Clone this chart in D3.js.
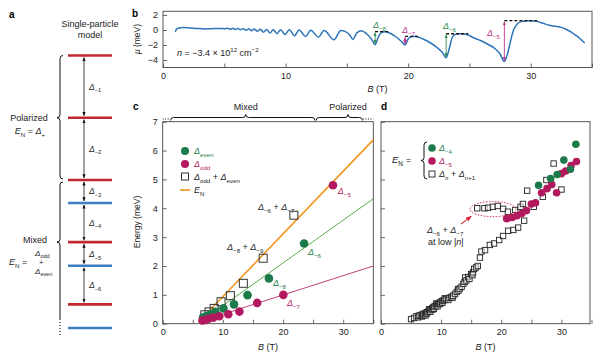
<!DOCTYPE html>
<html><head><meta charset="utf-8">
<script src="https://cdn.jsdelivr.net/npm/d3@7"></script>
<style>body{margin:0;background:#fff}svg{display:block}text{font-family:"Liberation Sans",Arial,sans-serif}</style>
</head><body><svg id="fig" width="603" height="357"></svg>
<script>
// ---------------- DATA ----------------
// panel a: single-particle levels (relative energy units) and colours
const levelsA = [0, 1, 2, 2.37, 3, 3.38, 4, 4.38];
const levelKindA = ["r", "r", "r", "b", "r", "b", "r", "b"];
const gapLabelsA = ["−1", "−2", "−3", "−4", "−5", "−6"];

// panel b: chemical potential mu (meV) vs B (T)
const muB = [1.0,1.1,1.3,1.7,2.2,2.8,3.4,4.0,4.6,5.0,5.3,5.5,5.7,5.9,6.1,6.3,6.55,6.75,7.0,7.2,7.45,7.7,7.95,8.2,8.45,8.72,9.0,9.3,9.6,9.96,10.3,10.73,11.1,11.63,12.05,12.68,13.15,13.95,14.5,14.8,15.2,15.5,15.8,16.2,16.6,17.0,17.3,17.55,17.8,18.1,18.5,19.0,19.5,19.75,20.0,20.3,20.6,21.2,21.8,22.4,22.8,23.1,23.35,23.6,23.9,24.3,24.8,25.3,25.9,26.5,27.1,27.5,27.85,28.1,28.35,28.6,28.9,29.3,29.9,30.5,31.0,31.5,32.0,32.5,33.0,33.5,34.0,34.4];
const muV = [-0.25,0.1,0.28,0.33,0.28,0.2,0.15,0.18,0.2,0.17,0.22,0.1,0.22,0.08,0.2,0.05,0.18,-0.02,0.15,-0.1,0.12,-0.15,0.1,-0.3,0.08,-0.4,0.05,-0.5,0.05,-0.6,0.05,-0.75,0.0,-0.85,-0.02,-0.95,-0.05,-1.3,-0.05,-0.15,-0.6,-1.25,-0.4,-0.1,-0.5,-1.2,-1.95,-1.0,-0.35,-0.22,-0.4,-0.9,-1.6,-2.0,-1.2,-0.87,-0.85,-1.2,-1.7,-2.4,-3.0,-3.7,-2.5,-1.0,-0.55,-0.5,-0.6,-1.0,-1.4,-1.9,-2.5,-3.2,-4.2,-3.2,-1.5,0.0,0.8,1.15,1.24,1.15,0.9,0.62,0.5,0.35,0.0,-0.5,-1.1,-1.75];
const gapArrowsB = [ // B, bottom mu, top mu, dashed end B, label, parity
  {B:17.3, lo:-1.95, hi:-0.22, end:18.4, lab:"−8", par:"even"},
  {B:19.75, lo:-2.0, hi:-0.85, end:20.9, lab:"−7", par:"odd"},
  {B:23.1, lo:-3.7, hi:-0.5, end:24.9, lab:"−6", par:"even"},
  {B:27.85, lo:-4.2, hi:1.24, end:30.6, lab:"−5", par:"odd"}
];

// panel c
const cEven = [[6.7,0.21],[7.2,0.26],[7.9,0.33],[8.75,0.41],[10.1,0.53],[11.85,0.67],[14.1,0.99],[17.65,1.57],[23.5,2.78]];
const cOdd  = [[6.6,0.11],[7.1,0.13],[7.6,0.17],[8.4,0.21],[9.4,0.26],[10.9,0.33],[12.75,0.42],[15.7,0.72],[20.05,1.0],[28.3,4.8]];
const cSum  = [[7.0,0.31],[7.7,0.41],[8.55,0.53],[9.7,0.76],[11.25,0.97],[13.4,1.4],[16.7,2.27],[21.8,3.76]];
const cLineEN   = [[6.5,0.18],[35,6.37]];
const cLineEven = [[6.2,0.06],[35,4.33]];
const cLineOdd  = [[6.0,0.06],[35,2.0]];

// panel d
const dEven = [[26.2,4.8],[28.2,5.03],[29.3,5.17],[30.4,5.67],[31.5,5.35],[32.4,6.22]];
const dOdd  = [[20.9,3.64],[21.8,3.68],[22.6,3.74],[23.4,3.82],[24.2,3.92],[25.0,4.15],[25.7,4.19],[26.7,4.54],[27.6,4.68],[28.4,4.82],[29.2,4.54],[30.0,5.2],[30.7,5.29],[31.6,5.48],[32.5,5.62]];
const dSum  = [[5.0,0.16],[5.5,0.2],[5.9,0.26],[6.2,0.22],[6.3,0.28],[6.6,0.3],[6.8,0.25],[6.9,0.32],[7.0,0.28],[7.1,0.35],[7.3,0.33],[7.4,0.29],[7.5,0.38],[7.6,0.35],[7.7,0.4],[7.9,0.43],[8.0,0.5],[8.1,0.46],[8.2,0.41],[8.3,0.5],[8.5,0.53],[8.6,0.49],[8.7,0.57],[8.8,0.52],[8.9,0.6],[9.1,0.62],[9.2,0.7],[9.3,0.66],[9.4,0.6],[9.5,0.69],[9.7,0.72],[9.8,0.68],[9.9,0.75],[10.1,0.78],[10.2,0.72],[10.3,0.8],[10.5,0.82],[10.6,0.88],[10.8,0.85],[11.1,0.88],[11.2,0.82],[11.4,0.9],[11.7,0.93],[11.9,0.9],[12.0,0.97],[12.3,1.03],[12.6,1.1],[12.8,1.2],[12.9,1.15],[13.1,1.22],[13.4,1.28],[13.7,1.38],[13.9,1.45],[14.0,1.6],[14.2,1.5],[14.5,1.62],[14.7,1.55],[15.0,1.72],[15.2,1.68],[15.3,1.78],[15.5,1.9],[15.8,1.95],[16.1,2.0],[16.45,2.29],[16.7,2.5],[17.3,2.55],[18.1,2.73],[18.8,2.78],[19.65,2.9],[20.3,3.04],[21.15,3.22],[22.0,3.25],[22.8,3.33],[23.8,3.57],
  [16.0,4.0],[17.2,4.0],[17.8,4.02],[18.6,4.05],[19.4,4.08],[20.3,3.98],[21.1,3.88],[22.3,3.94],[23.2,4.05],[23.6,4.15],[24.3,4.61],[25.4,4.05],[26.9,4.4],[27.5,4.98],[28.7,5.55],[30.0,4.65]];

const ticksB = [0,5,10,15,20,25,30,35];
const tickLabelsB = [0,10,20,30];

// ---------------- STYLE ----------------
const RED = "#c4282f", BLUE = "#3b7fc2";
const GREEN = "#1d7a4b", MAG = "#b3195e";
const GREENL = "#5aac4a", MAGL = "#c2407e", ORANGE = "#f2941c";
const CURVE = "#2c74b9";
const FONT = 9;

const svg = d3.select("#fig");
svg.append("rect").attr("width",603).attr("height",357).attr("fill","#fff");
const defs = svg.append("defs");
function marker(id, color, size) {
  defs.append("marker").attr("id", id).attr("viewBox","0 0 10 10").attr("refX",9).attr("refY",5)
    .attr("markerWidth", size).attr("markerHeight", size).attr("orient","auto-start-reverse")
    .attr("markerUnits","userSpaceOnUse")
    .append("path").attr("d","M0,1 L10,5 L0,9 Z").attr("fill", color);
}
marker("ak", "#111", 4); marker("ag", "#2d8a50", 4); marker("am", "#c0338a", 4); marker("ar", "#d62035", 6);

function rich(sel, x, y, parts, o = {}) {
  const size = o.size || FONT;
  const t = sel.append("text").attr("x", x).attr("y", y).attr("font-size", size)
    .attr("fill", o.color || "#222").attr("text-anchor", o.anchor || "start");
  let shift = 0;
  parts.forEach(p => {
    const ts = t.append("tspan").text(p.t);
    const target = p.sub ? size * 0.3 : p.sup ? -size * 0.4 : 0;
    if (target !== shift) { ts.attr("dy", target - shift); shift = target; }
    if (p.sub || p.sup) ts.attr("font-size", size * 0.68);
    if (p.i) ts.attr("font-style", "italic");
    if (p.color) ts.attr("fill", p.color);
  });
  return t;
}
const D = (s, extra = {}) => [{t:"Δ", i:true, ...extra}, {t:s, sub:true, ...extra}];

function vbrace(x, y1, y2, yt, w) {
  return `M${x+w},${y1} Q${x},${y1} ${x},${y1+w} L${x},${yt-w} Q${x},${yt} ${x-w},${yt} Q${x},${yt} ${x},${yt+w} L${x},${y2-w} Q${x},${y2} ${x+w},${y2}`;
}
function hbrace(x1, x2, xt, y, w) {
  return `M${x1},${y+w} Q${x1},${y} ${x1+w},${y} L${xt-w},${y} Q${xt},${y} ${xt},${y-w} Q${xt},${y} ${xt+w},${y} L${x2-w},${y} Q${x2},${y} ${x2},${y+w}`;
}

function axes(g, x, y, o) {
  const xa = d3.axisBottom(x).tickValues(ticksB).tickFormat(d => tickLabelsB.includes(d) ? d : "")
    .tickSizeInner(-4).tickSizeOuter(0).tickPadding(5);
  const gx = g.append("g").attr("transform", `translate(0,${y.range()[0]})`).call(xa);
  const ya = d3.axisLeft(y).tickValues(o.yt).tickFormat(o.yf).tickSizeInner(-4).tickSizeOuter(0).tickPadding(5);
  const gy = g.append("g").attr("transform", `translate(${x.range()[0]},0)`).call(ya);
  [gx, gy].forEach(a => {
    a.select(".domain").remove();
    a.selectAll("line").attr("stroke", "#444").attr("stroke-width", 0.8);
    a.selectAll("text").attr("font-size", FONT).attr("fill", "#222").attr("font-family", '"Liberation Sans",Arial,sans-serif');
  });
  g.append("rect").attr("x", x.range()[0]).attr("y", y.range()[1])
    .attr("width", x.range()[1] - x.range()[0]).attr("height", y.range()[0] - y.range()[1])
    .attr("fill", "none").attr("stroke", "#444").attr("stroke-width", 0.9);
  rich(g, (x.range()[0] + x.range()[1]) / 2, o.xtY, [{t:"B", i:true}, {t:" (T)"}], {anchor:"middle"});
}

// ---------------- PANEL A ----------------
const gA = svg.append("g");
const aY = d3.scaleLinear().domain([0, 4.38]).range([55.5, 328]);
gA.append("text").attr("x", 9).attr("y", 18).attr("font-size", 10).attr("font-weight", "bold").text("a");
gA.append("text").attr("x", 90).attr("y", 27).attr("font-size", FONT).attr("text-anchor","middle").attr("fill","#222").text("Single-particle");
gA.append("text").attr("x", 90).attr("y", 38).attr("font-size", FONT).attr("text-anchor","middle").attr("fill","#222").text("model");
gA.selectAll("line.lev").data(levelsA).enter().append("line")
  .attr("x1", 68).attr("x2", 112).attr("y1", d => aY(d)).attr("y2", d => aY(d))
  .attr("stroke", (d, i) => levelKindA[i] === "r" ? RED : BLUE).attr("stroke-width", 2.6);
gapLabelsA.forEach((lab, i) => {
  const y1 = aY(levelsA[i]) + 2, y2 = aY(levelsA[i + 1]) - 2;
  gA.append("line").attr("x1", 84).attr("x2", 84).attr("y1", y1).attr("y2", y2)
    .attr("stroke", "#111").attr("stroke-width", 0.8)
    .attr("marker-start", "url(#ak)").attr("marker-end", "url(#ak)");
  rich(gA, 89, (y1 + y2) / 2 + 3, D(lab), {size: 8.5});
});
gA.append("path").attr("d", vbrace(60, aY(0), aY(2) - 1, aY(1), 3)).attr("fill","none").attr("stroke","#111").attr("stroke-width",1);
gA.append("path").attr("d", `M63,${aY(2)+2} Q60,${aY(2)+2} 60,${aY(2)+5} L60,${aY(3)-3} Q60,${aY(3)} 57,${aY(3)} Q60,${aY(3)} 60,${aY(3)+3} L60,320`)
  .attr("fill","none").attr("stroke","#111").attr("stroke-width",1);
gA.append("line").attr("x1",60).attr("x2",60).attr("y1",322).attr("y2",336).attr("stroke","#111").attr("stroke-width",1.2).attr("stroke-dasharray","1,2");
gA.append("text").attr("x", 29).attr("y", 121).attr("font-size", FONT).attr("text-anchor","middle").attr("fill","#222").text("Polarized");
rich(gA, 30, 134, [{t:"E", i:true}, {t:"N", sub:true}, {t:" = "}, {t:"Δ", i:true}, {t:"+", sub:true}], {anchor:"middle"});
gA.append("text").attr("x", 35).attr("y", 243).attr("font-size", FONT).attr("text-anchor","middle").attr("fill","#222").text("Mixed");
rich(gA, 9, 265, [{t:"E", i:true}, {t:"N", sub:true}, {t:" ="}]);
rich(gA, 35, 255.5, D("odd"), {size: 8});
gA.append("text").attr("x", 39).attr("y", 265).attr("font-size", 7.5).attr("fill","#222").text("+");
rich(gA, 35, 273.5, D("even"), {size: 8});

// ---------------- PANEL B ----------------
const gB = svg.append("g");
const bx = d3.scaleLinear().domain([0, 35]).range([163, 592]);
const by = d3.scaleLinear().domain([-5, 2.5]).range([67.5, 11.25]);
gB.append("text").attr("x", 132).attr("y", 17).attr("font-size", 10).attr("font-weight", "bold").text("b");
axes(gB, bx, by, {yt: [-4, -2, 0, 2], yf: d => d < 0 ? "−" + Math.abs(d) : d, xtY: 92});
rich(gB, 0, 0, [{t:"μ", i:true}, {t:" (meV)"}], {anchor:"middle", size: 8.5}).attr("transform", "translate(140,39) rotate(-90)").attr("x",0).attr("y",0);
const muPts = muB.map((b, i) => [b, muV[i]]);
gB.append("path").datum(muPts).attr("fill","none").attr("stroke", CURVE).attr("stroke-width", 1.5)
  .attr("d", d3.line().x(d => bx(d[0])).y(d => by(d[1])).curve(d3.curveMonotoneX));
gapArrowsB.forEach(a => {
  const col = a.par === "even" ? "#2d8a50" : "#c0338a";
  gB.append("line").attr("x1", bx(a.B)).attr("x2", bx(a.end)).attr("y1", by(a.hi)).attr("y2", by(a.hi))
    .attr("stroke", "#111").attr("stroke-width", 1.3).attr("stroke-dasharray", "3,2");
  gB.append("line").attr("x1", bx(a.B)).attr("x2", bx(a.B)).attr("y1", by(a.lo) - 1).attr("y2", by(a.hi) + 1)
    .attr("stroke", col).attr("stroke-width", 0.9)
    .attr("marker-start", a.par === "even" ? "url(#ag)" : "url(#am)").attr("marker-end", a.par === "even" ? "url(#ag)" : "url(#am)");
});
rich(gB, 373, 28, D("−8"), {color: "#2d8a50"});
rich(gB, 402, 33, D("−7"), {color: "#c0338a"});
rich(gB, 443, 29, D("−6"), {color: "#2d8a50"});
rich(gB, 487, 36, D("−5"), {color: "#c0338a"});
rich(gB, 177, 56, [{t:"n", i:true}, {t:" = −3.4 × 10"}, {t:"12", sup:true}, {t:" cm"}, {t:"−2", sup:true}]);

// ---------------- PANEL C ----------------
const gC = svg.append("g");
const cx = d3.scaleLinear().domain([0, 35]).range([162.7, 373.3]);
const cy = d3.scaleLinear().domain([0, 7]).range([323.7, 121.7]);
gC.append("text").attr("x", 133).attr("y", 110).attr("font-size", 10).attr("font-weight", "bold").text("c");
axes(gC, cx, cy, {yt: d3.range(0, 8), yf: d => d, xtY: 350});
rich(gC, 0, 0, [{t:"Energy (meV)"}], {anchor:"middle", size: 8.5}).attr("transform", "translate(140,222) rotate(-90)");
// regime brace above
gC.append("path").attr("d", hbrace(cx(1.3), cx(25.3), cx(13.8), 117.5, 3)).attr("fill","none").attr("stroke","#111").attr("stroke-width",1);
gC.append("path").attr("d", hbrace(cx(25.5), cx(33.2), cx(30.8), 117.5, 3)).attr("fill","none").attr("stroke","#111").attr("stroke-width",1);
gC.append("line").attr("x1", cx(0)).attr("x2", cx(1.2)).attr("y1", 119).attr("y2", 119).attr("stroke","#111").attr("stroke-width",1.2).attr("stroke-dasharray","1,1.5");
gC.append("line").attr("x1", cx(33.3)).attr("x2", cx(35)).attr("y1", 119).attr("y2", 119).attr("stroke","#111").attr("stroke-width",1.2).attr("stroke-dasharray","1,1.5");
gC.append("text").attr("x", cx(13.8)).attr("y", 110).attr("font-size", FONT).attr("text-anchor","middle").attr("fill","#222").text("Mixed");
gC.append("text").attr("x", cx(30.8)).attr("y", 110).attr("font-size", FONT).attr("text-anchor","middle").attr("fill","#222").text("Polarized");
const ln = d3.line().x(d => cx(d[0])).y(d => cy(d[1]));
gC.append("path").datum(cLineOdd).attr("d", ln).attr("stroke", MAGL).attr("stroke-width", 1).attr("fill","none");
gC.append("path").datum(cLineEven).attr("d", ln).attr("stroke", GREENL).attr("stroke-width", 1).attr("fill","none");
gC.append("path").datum(cLineEN).attr("d", ln).attr("stroke", ORANGE).attr("stroke-width", 1.6).attr("fill","none");
gC.selectAll("rect.cs").data(cSum).enter().append("rect")
  .attr("x", d => cx(d[0]) - 4).attr("y", d => cy(d[1]) - 4).attr("width", 8).attr("height", 8)
  .attr("fill", "none").attr("stroke", "#333").attr("stroke-width", 1);
gC.selectAll("circle.ce").data(cEven).enter().append("circle")
  .attr("cx", d => cx(d[0])).attr("cy", d => cy(d[1])).attr("r", 4.3).attr("fill", GREEN);
gC.selectAll("circle.co").data(cOdd).enter().append("circle")
  .attr("cx", d => cx(d[0])).attr("cy", d => cy(d[1])).attr("r", 4.3).attr("fill", MAG);
// labels in data coordinates
rich(gC, cx(29.1), cy(4.49), D("−5"), {color: MAG});
rich(gC, cx(24.15), cy(2.38), D("−6"), {color: GREEN});
rich(gC, cx(18.33), cy(1.31), D("−8"), {color: GREEN});
rich(gC, cx(20.66), cy(0.61), D("−7"), {color: MAG});
rich(gC, cx(15.84), cy(3.94), [...D("−6"), {t:" + "}, ...D("−7")]);
rich(gC, cx(10.69), cy(2.55), [...D("−8"), {t:" + "}, ...D("−9")]);
// legend
gC.append("circle").attr("cx", 185).attr("cy", 151).attr("r", 4).attr("fill", GREEN);
rich(gC, 194, 154, D("even"), {color: GREEN});
gC.append("circle").attr("cx", 185).attr("cy", 164).attr("r", 4).attr("fill", MAG);
rich(gC, 194, 167, D("odd"), {color: MAG});
gC.append("rect").attr("x", 181.5).attr("y", 173).attr("width", 7).attr("height", 7).attr("fill","none").attr("stroke","#333").attr("stroke-width",1);
rich(gC, 194, 180, [...D("odd"), {t:" + "}, ...D("even")]);
gC.append("line").attr("x1", 180).attr("x2", 190).attr("y1", 190).attr("y2", 190).attr("stroke", ORANGE).attr("stroke-width", 1.6);
rich(gC, 194, 193, [{t:"E", i:true}, {t:"N", sub:true}]);

// ---------------- PANEL D ----------------
const gD = svg.append("g");
const dx = d3.scaleLinear().domain([0, 34.75]).range([381, 590]);
const dy = d3.scaleLinear().domain([0, 7]).range([323.7, 121.7]);
gD.append("text").attr("x", 381).attr("y", 110).attr("font-size", 10).attr("font-weight", "bold").text("d");
axes(gD, dx, dy, {yt: d3.range(0, 8), yf: () => "", xtY: 350});
gD.selectAll("rect.ds").data(dSum).enter().append("rect")
  .attr("x", d => dx(d[0]) - 2.7).attr("y", d => dy(d[1]) - 2.7).attr("width", 5.4).attr("height", 5.4)
  .attr("fill", "#fff").attr("fill-opacity", 0.5).attr("stroke", "#222").attr("stroke-width", 0.9);
gD.selectAll("circle.dod").data(dOdd).enter().append("circle")
  .attr("cx", d => dx(d[0])).attr("cy", d => dy(d[1])).attr("r", 3.8).attr("fill", MAG);
gD.selectAll("circle.dev").data(dEven).enter().append("circle")
  .attr("cx", d => dx(d[0])).attr("cy", d => dy(d[1])).attr("r", 3.8).attr("fill", GREEN);
// annotation ellipse + arrow
gD.append("ellipse").attr("cx", dx(18.62)).attr("cy", dy(3.97)).attr("rx", dx(18.62 + 3.82) - dx(18.62)).attr("ry", dy(3.97) - dy(3.97 + 0.26))
  .attr("fill","none").attr("stroke","#d0203a").attr("stroke-width",1).attr("stroke-dasharray","1.5,1.5");
gD.append("line").attr("x1", dx(13.3)).attr("y1", dy(3.45)).attr("x2", dx(15.0)).attr("y2", dy(3.72))
  .attr("stroke","#d62035").attr("stroke-width",1.1).attr("marker-end","url(#ar)");
rich(gD, dx(7.65), dy(3.14), [...D("−6"), {t:" + "}, ...D("−7")]);
rich(gD, dx(7.8), dy(2.73), [{t:"at low |"}, {t:"n", i:true}, {t:"|"}]);
// legend
rich(gD, 392, 163, [{t:"E", i:true}, {t:"N", sub:true}, {t:" ="}], {size: 9.5});
gD.append("path").attr("d", vbrace(424, 142, 179, 160.5, 3)).attr("fill","none").attr("stroke","#111").attr("stroke-width",1);
gD.append("circle").attr("cx", 432).attr("cy", 148).attr("r", 3.8).attr("fill", GREEN);
rich(gD, 439, 151, D("−4"), {color: GREEN});
gD.append("circle").attr("cx", 432).attr("cy", 161).attr("r", 3.8).attr("fill", MAG);
rich(gD, 439, 164, D("−5"), {color: MAG});
gD.append("rect").attr("x", 429).attr("y", 171).attr("width", 6).attr("height", 6).attr("fill","none").attr("stroke","#222").attr("stroke-width",0.9);
rich(gD, 439, 177, [{t:"Δ", i:true}, {t:"n", sub:true, i:true}, {t:" + "}, {t:"Δ", i:true}, {t:"n+1", sub:true}]);
</script></body></html>
